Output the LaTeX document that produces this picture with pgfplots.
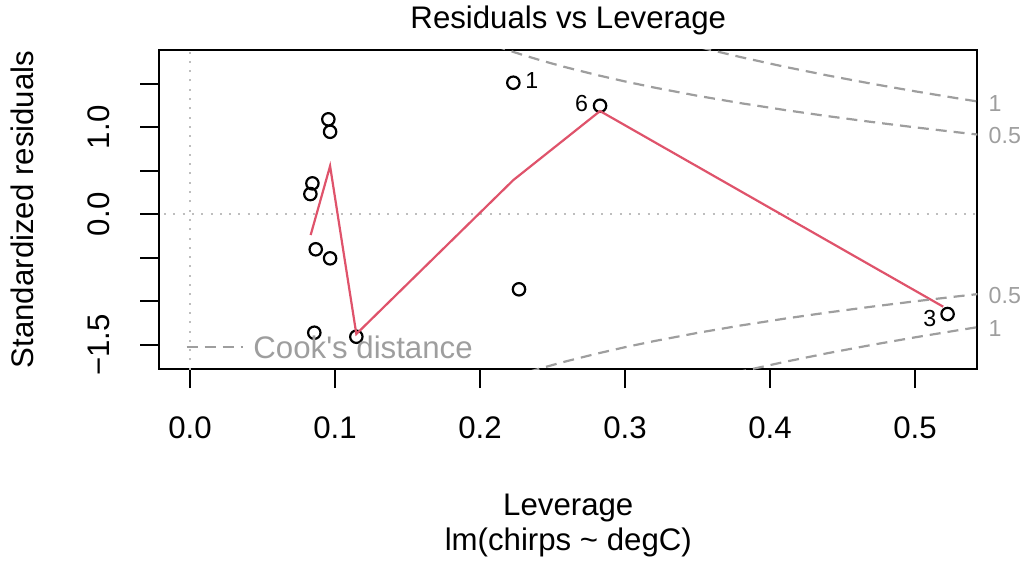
\documentclass[border=0pt]{standalone}
\usepackage{fontspec}
\setmainfont{Liberation Sans}
\usepackage{pgfplots}
\pgfplotsset{compat=1.18}

\definecolor{rred}{HTML}{DF536B}
\definecolor{cookgray}{RGB}{158,158,158}
\definecolor{zerogray}{RGB}{190,190,190}

\newcommand{\bigf}{\fontsize{15.6}{18.7}\selectfont}
\newcommand{\smallf}{\fontsize{11.6}{14}\selectfont}

% standardized residuals vs leverage
\pgfplotstableread{
h r
0.2230 1.513
0.2828 1.248
0.0954 1.092
0.0966 0.949
0.0844 0.356
0.0830 0.233
0.0867 -0.402
0.0966 -0.506
0.2269 -0.862
0.0857 -1.361
0.1147 -1.407
0.5225 -1.146
}\resid

\begin{document}
\begin{tikzpicture}
\begin{axis}[
  at={(0,0)}, anchor=south west,
  scale only axis, width=409pt, height=159.5pt,
  xmin=-0.0212, xmax=0.543, ymin=-1.778, ymax=1.889,
  axis line style={line width=1.1pt},
  tick align=outside, xtick pos=bottom, ytick pos=left,
  major tick length=9.5pt,
  every tick/.style={black, line width=1.1pt},
  xtick={0,0.1,0.2,0.3,0.4,0.5},
  xticklabels={0.0,0.1,0.2,0.3,0.4,0.5},
  ytick={-1.5,-1,-0.5,0,0.5,1,1.5},
  yticklabels={−1.5,,,0.0,,1.0,},
  tick label style={font=\bigf},
  xticklabel style={anchor=base, yshift=-25.15pt},
  yticklabel style={xshift=-15.15pt, rotate=90, anchor=base},
  title={Residuals vs Leverage},
  title style={at={(axis description cs:0.5,1.06803)}, anchor=base, yshift=-6pt, font=\bigf},
  xlabel={Leverage},
  xlabel style={at={(axis description cs:0.5,-0.45768)}, anchor=base, font=\bigf},
  ylabel={Standardized residuals},
  ylabel style={at={(axis description cs:-0.15403,0.5)}, anchor=base, font=\bigf},
  clip mode=individual,
]
% reference lines
\addplot[zerogray, line width=1pt, dash pattern=on 1pt off 3.65pt] coordinates {(-0.05,0) (0.6,0)};
\addplot[zerogray, line width=1pt, dash pattern=on 1pt off 3.65pt] coordinates {(0,-2) (0,2)};

% points
\addplot[only marks, mark=o, mark size=3.1pt, mark options={line width=1.1pt, black}] table[x=h, y=r] {\resid};

% smoother
\addplot[rred, line width=1.1pt] coordinates {
  (0.0832,-0.238) (0.0966,0.555) (0.1147,-1.376) (0.2230,0.394) (0.2828,1.187) (0.5195,-1.062)
};

% Cook's distance contours, D = 0.5 and D = 1
\addplot[cookgray, line width=1.1pt, dash pattern=on 5.5pt off 3.5pt] coordinates {
  (0.21,1.9396) (0.22,1.8829) (0.23,1.8297) (0.24,1.7795) (0.25,1.7321) (0.26,1.6871)
  (0.28,1.6036) (0.30,1.5275) (0.32,1.4577) (0.35,1.3628) (0.38,1.2773) (0.41,1.1996)
  (0.44,1.1282) (0.47,1.0619) (0.50,1.0000) (0.53,0.9417) (0.55,0.9045)
};
\addplot[cookgray, line width=1.1pt, dash pattern=on 5.5pt off 3.5pt] coordinates {
  (0.21,-1.9396) (0.22,-1.8829) (0.23,-1.8297) (0.24,-1.7795) (0.25,-1.7321) (0.26,-1.6871)
  (0.28,-1.6036) (0.30,-1.5275) (0.32,-1.4577) (0.35,-1.3628) (0.38,-1.2773) (0.41,-1.1996)
  (0.44,-1.1282) (0.47,-1.0619) (0.50,-1.0000) (0.53,-0.9417) (0.55,-0.9045)
};
\addplot[cookgray, line width=1.1pt, dash pattern=on 5.5pt off 3.5pt] coordinates {
  (0.34,1.9704) (0.35,1.9273) (0.36,1.8856) (0.38,1.8064) (0.41,1.6965) (0.44,1.5955)
  (0.47,1.5018) (0.50,1.4142) (0.53,1.3318) (0.55,1.2792)
};
\addplot[cookgray, line width=1.1pt, dash pattern=on 5.5pt off 3.5pt] coordinates {
  (0.34,-1.9704) (0.35,-1.9273) (0.36,-1.8856) (0.38,-1.8064) (0.41,-1.6965) (0.44,-1.5955)
  (0.47,-1.5018) (0.50,-1.4142) (0.53,-1.3318) (0.55,-1.2792)
};

% point labels
\node[anchor=base west, inner sep=0, font=\smallf] at (axis cs:0.2310,1.448) {1};
\node[anchor=base east, inner sep=0, font=\smallf] at (axis cs:0.2747,1.179) {6};
\node[anchor=base east, inner sep=0, font=\smallf] at (axis cs:0.5150,-1.292) {3};

% contour labels in the right margin
\node[anchor=west, inner sep=0, font=\smallf, text=cookgray] at (axis cs:0.5506,1.279) {1};
\node[anchor=west, inner sep=0, font=\smallf, text=cookgray] at (axis cs:0.5506,0.902) {0.5};
\node[anchor=west, inner sep=0, font=\smallf, text=cookgray] at (axis cs:0.5506,-0.937) {0.5};
\node[anchor=west, inner sep=0, font=\smallf, text=cookgray] at (axis cs:0.5506,-1.310) {1};

% legend
\draw[cookgray, line width=1.1pt, dash pattern=on 5.5pt off 3.5pt] (axis cs:-0.0023,-1.522) -- (axis cs:0.0366,-1.522);
\node[anchor=base west, inner sep=0, font=\bigf, text=cookgray] at (axis cs:0.04345,-1.655) {Cook\textquotesingle s distance};

% sub caption
\node[anchor=base, inner sep=0, font=\bigf] at (axis description cs:0.5,-0.5705) {lm(chirps \textasciitilde{} degC)};
\end{axis}
\pgfresetboundingbox
\path (-79.65pt,-96.5pt) rectangle (431.85pt,184.5pt);
\end{tikzpicture}
\end{document}
